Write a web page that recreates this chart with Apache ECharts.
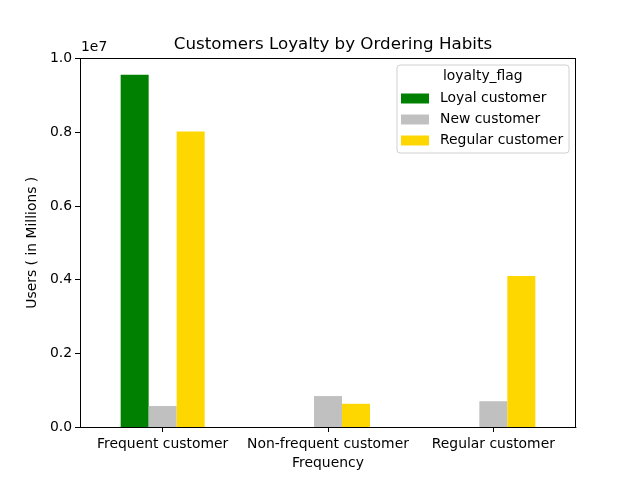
<!DOCTYPE html>
<html><head><meta charset="utf-8">
<script src="https://cdn.jsdelivr.net/npm/echarts@6/dist/echarts.min.js"></script>
<style>html,body{margin:0;padding:0;background:#fff}#c{width:640px;height:480px}</style>
</head><body><div id="c"></div>
<script>
const categories = ['Frequent customer', 'Non-frequent customer', 'Regular customer'];
const loyal = [9560000, null, null];
const newCust = [570000, 840000, 700000];
const regular = [8020000, 630000, 4100000];
const yTicks = [0, 0.2, 0.4, 0.6, 0.8, 1.0];
const seriesNames = ['Loyal customer', 'New customer', 'Regular customer'];
const colors = ['#008000', '#c0c0c0', '#ffd700'];

const font = 'DejaVu Sans';
const fs = 13.9;
const chart = echarts.init(document.getElementById('c'), null, {renderer: 'canvas'});
const mkSeries = (name, data, color) => ({
  name, type: 'bar', data, barWidth: 28, barGap: '0%',
  itemStyle: {color}, emphasis: {disabled: true}
});
chart.setOption({
  animation: false,
  textStyle: {fontFamily: font},
  title: {
    text: 'Customers Loyalty by Ordering Habits', left: 328, top: 31, textAlign: 'center',
    textStyle: {fontFamily: font, fontSize: 16.7, fontWeight: 'normal', color: '#000'}
  },
  grid: {left: 80, right: 64, top: 58.5, bottom: 53, containLabel: false},
  xAxis: {
    type: 'category', data: categories,
    name: 'Frequency', nameLocation: 'middle', nameGap: 29,
    nameTextStyle: {fontFamily: font, fontSize: fs, color: '#000'},
    axisLine: {show: true, onZero: false, lineStyle: {color: '#000', width: 1}},
    axisTick: {show: true, alignWithLabel: true, length: 5, lineStyle: {color: '#000'}},
    axisLabel: {fontFamily: font, fontSize: fs, color: '#000', margin: 10, interval: 0},
    splitLine: {show: false}
  },
  yAxis: {
    type: 'value', min: 0, max: 10000000, interval: 2000000,
    name: 'Users ( in Millions )', nameLocation: 'middle', nameGap: 37, nameRotate: 90,
    nameTextStyle: {fontFamily: font, fontSize: fs, color: '#000'},
    axisLine: {show: true, lineStyle: {color: '#000', width: 1}},
    axisTick: {show: true, length: 5, lineStyle: {color: '#000'}},
    axisLabel: {fontFamily: font, fontSize: fs, color: '#000', margin: 8,
      formatter: v => yTicks[Math.round(v / 2000000)].toFixed(1)},
    splitLine: {show: false}
  },
  legend: {
    orient: 'vertical', left: 401, top: 91, padding: 0, itemWidth: 28, itemHeight: 10, itemGap: 6,
    icon: 'rect', selectedMode: false,
    textStyle: {fontFamily: font, fontSize: fs, color: '#000', lineHeight: 15, padding: [0, 0, 0, 6]},
    data: seriesNames
  },
  graphic: [
    {type: 'rect', shape: {x: 397, y: 65, width: 172, height: 88, r: 3}, z: 0,
     style: {fill: 'rgba(255,255,255,0.8)', stroke: '#d0d0d0', lineWidth: 1}},
    {type: 'text', left: 443, top: 69, z: 10,
     style: {text: 'loyalty_flag', font: '13.9px "DejaVu Sans"', fill: '#000'}},
    {type: 'text', left: 81, top: 40, z: 10,
     style: {text: '1e7', font: '13.9px "DejaVu Sans"', fill: '#000'}},
    {type: 'line', shape: {x1: 80, y1: 58.5, x2: 576, y2: 58.5}, style: {stroke: '#000', lineWidth: 1}, z: 10},
    {type: 'line', shape: {x1: 575.5, y1: 58, x2: 575.5, y2: 427}, style: {stroke: '#000', lineWidth: 1}, z: 10}
  ],
  series: [
    mkSeries(seriesNames[0], loyal, colors[0]),
    mkSeries(seriesNames[1], newCust, colors[1]),
    mkSeries(seriesNames[2], regular, colors[2])
  ]
});
</script></body></html>
